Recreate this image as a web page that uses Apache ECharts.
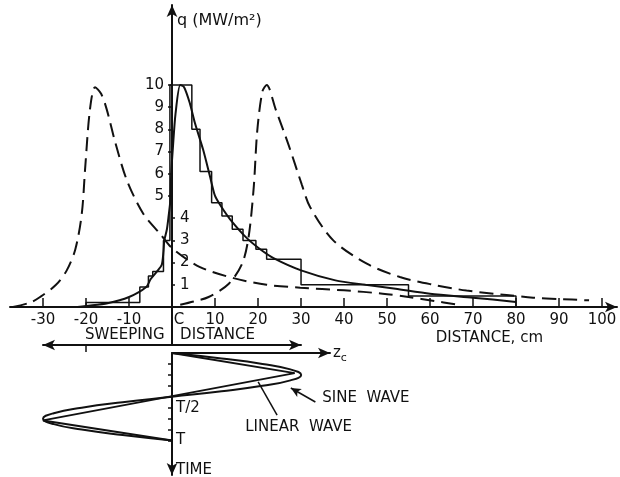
<!DOCTYPE html>
<html>
<head>
<meta charset="utf-8">
<script src="https://cdn.jsdelivr.net/npm/echarts@6/dist/echarts.min.js"></script>
<style>
  html, body { margin: 0; padding: 0; background: #fff; }
  #chart { width: 620px; height: 477px; }
</style>
</head>
<body>
<div id="chart"></div>
<script>
const ink = '#111';
const font = 'DejaVu Sans';

// heat flux q (MW/m2) along the target, distance in cm
const solidX = [-22, -20, -15, -10, -6, -5, -3.5, -2.4, -2, -1.8, -1.2, -0.8, -0.4, -0.2, 0.2, 0.8, 1.9, 2.8, 4.1, 5.3, 7.2, 8.8, 10, 11.5, 13.5, 17.4, 20.5, 23.6, 30, 38, 45, 52, 60, 70, 80];
const solidQ = [0, 0.05, 0.17, 0.45, 0.9, 1.25, 1.6, 1.9, 2.5, 3.0, 3.5, 4.1, 4.8, 6.0, 7.2, 8.7, 10, 9.9, 9.2, 8.3, 7.1, 5.9, 5.0, 4.5, 3.95, 3.1, 2.6, 2.2, 1.65, 1.2, 1.0, 0.82, 0.6, 0.42, 0.23];

const leftDashX = [-37, -33, -30.7, -27, -24.5, -22.5, -21, -20.2, -19.1, -17.9, -16.5, -15.2, -13.2, -10.5, -6.7, -2.8, 0.3, 6.5, 14.3, 22, 29.8, 40, 49, 55, 61, 66];
const leftDashQ = [0, 0.2, 0.45, 1.0, 1.65, 2.6, 4.2, 6.3, 8.9, 9.9, 9.6, 8.9, 7.4, 5.7, 4.2, 3.3, 2.6, 1.8, 1.3, 1.0, 0.87, 0.75, 0.6, 0.45, 0.27, 0.12];

const rightDashX = [1.9, 5, 8.5, 13.2, 16.3, 17.8, 19, 19.8, 21, 22, 24.1, 27.1, 30.2, 32.1, 37.5, 45.3, 53, 60.8, 68.5, 77.8, 84, 90, 97];
const rightDashQ = [0.1, 0.25, 0.45, 1.05, 1.95, 3.15, 5.4, 7.9, 9.7, 10, 8.9, 7.3, 5.5, 4.5, 3.0, 1.95, 1.35, 1.0, 0.74, 0.54, 0.42, 0.36, 0.3];

// histogram: edges and the level between each pair
const stepEdges = [-20, -7.5, -5.5, -4.5, -2, -0.5, 4.6, 6.5, 9.2, 11.6, 14, 16.5, 19.5, 22, 30, 55, 80];
const stepQ = [0.2, 0.9, 1.4, 1.6, 3.0, 10, 8.0, 6.1, 4.7, 4.1, 3.5, 3.0, 2.6, 2.15, 1.0, 0.5];

const distanceTicks = [-30, -20, -10, 0, 10, 20, 30, 40, 50, 60, 70, 80, 90, 100];
const fluxTicksLeft = [5, 6, 7, 8, 9, 10];
const fluxTicksRight = [1, 2, 3, 4];

// strike point position z_c (cm) over one period T
const sineT = [0, 0.0625, 0.125, 0.1875, 0.25, 0.3125, 0.375, 0.4375, 0.5, 0.5625, 0.625, 0.6875, 0.75, 0.8125, 0.875, 0.9375, 1];
const sineZ = [0, 11.5, 21, 27.5, 30, 27.5, 21, 11.5, 0, -11.5, -21, -27.5, -30, -27.5, -21, -11.5, 0];
const linearT = [0, 0.23, 0.77, 1];
const linearZ = [0, 28.5, -30, 0];
const timeTicks = [0.125, 0.25, 0.375, 0.5, 0.625, 0.75, 0.875, 1];
const timeLabels = [0.5, 1, 1.337];

const pairs = (xs, ys) => xs.map((x, i) => [x, ys[i]]);

const stepData = [[stepEdges[0], 0]]
    .concat(stepQ.map((q, i) => [stepEdges[i], q]))
    .concat([[stepEdges[stepEdges.length - 1], 0]]);

const txt = { color: ink, fontFamily: font, fontSize: 15 };
const axisInk = { color: ink, width: 2 };
const noGridBounds = { containLabel: false, outerBoundsMode: 'none' };
const hidden = { axisLine: { show: false }, axisTick: { show: false }, axisLabel: { show: false }, splitLine: { show: false } };

// a text tag pinned to a data point, drawn through markPoint
const tag = (coord, text) => ({
    coord, symbol: 'circle', symbolSize: 0,
    label: { show: true, position: 'right', distance: 0, ...txt, formatter: text },
});

const chart = echarts.init(document.getElementById('chart'));
chart.setOption({
    animation: false,
    backgroundColor: '#fff',
    grid: [
        { left: 10, width: 607, top: 5, height: 302, ...noGridBounds },   // q profile
        { left: 43, width: 258, top: 307, height: 38, ...noGridBounds },  // sweeping arrow
        { left: 172, width: 158, top: 353, height: 122, ...noGridBounds }, // z_c / time axes
        { left: 40, width: 290, top: 353, height: 122, ...noGridBounds },  // waves
    ],
    xAxis: [
        {
            gridIndex: 0, type: 'value', min: -37.7, max: 103.5,
            axisLine: { lineStyle: axisInk, symbol: ['none', 'arrow'], symbolSize: [8, 12] },
            axisTick: { inside: true, length: 9, customValues: distanceTicks.filter(v => v !== 0), lineStyle: { color: ink, width: 1.5 } },
            axisLabel: {
                customValues: distanceTicks, margin: 6, ...txt,
                formatter: v => v === 0 ? '{c|C}' : String(v),
                rich: { c: { ...txt, padding: [0, 0, 0, 14] } },
            },
            splitLine: { show: false },
            name: 'DISTANCE, cm', nameLocation: 'end', nameGap: -74,
            nameTextStyle: { ...txt, align: 'right', verticalAlign: 'top', padding: [24, 0, 0, 0] },
        },
        {
            gridIndex: 1, type: 'value', min: -30, max: 30,
            axisLine: { lineStyle: axisInk, symbol: ['arrow', 'arrow'], symbolSize: [8, 12] },
            axisTick: { inside: false, length: 7, customValues: [-20], lineStyle: { color: ink, width: 1.5 } },
            axisLabel: {
                inside: true, margin: 2, customValues: [-11, 10.6], ...txt,
                formatter: v => v < 0 ? 'SWEEPING' : 'DISTANCE',
            },
            splitLine: { show: false },
        },
        {
            gridIndex: 2, type: 'value', position: 'top', min: 0, max: 36.7,
            axisLine: { lineStyle: axisInk, symbol: ['none', 'arrow'], symbolSize: [8, 12] },
            axisTick: { show: false },
            axisLabel: { show: false },
            splitLine: { show: false },
            name: '{z|z}{c|c}', nameLocation: 'end', nameGap: 3,
            nameTextStyle: {
                rich: {
                    z: { ...txt },
                    c: { ...txt, fontSize: 11, padding: [10, 0, 0, 0] },
                },
            },
        },
        { gridIndex: 3, type: 'value', min: -30.7, max: 36.7, ...hidden },
    ],
    yAxis: [
        {
            gridIndex: 0, type: 'value', min: 0, max: 13.6, position: 'left', offset: -162,
            axisLine: { onZero: false, lineStyle: axisInk, symbol: ['none', 'arrow'], symbolSize: [8, 12] },
            axisTick: { length: 4, customValues: fluxTicksLeft, lineStyle: { color: ink, width: 1.5 } },
            axisLabel: { customValues: fluxTicksLeft, margin: 8, ...txt },
            splitLine: { show: false },
            name: 'q (MW/m²)', nameLocation: 'end', nameGap: -8,
            nameTextStyle: { ...txt, fontSize: 16, align: 'left', verticalAlign: 'top', padding: [0, 0, 0, 5] },
        },
        {
            gridIndex: 0, type: 'value', min: 0, max: 13.6, position: 'right', offset: -445,
            axisLine: { show: false, onZero: false },
            axisTick: { length: 3, customValues: fluxTicksRight, lineStyle: { color: ink, width: 1.5 } },
            axisLabel: { customValues: fluxTicksRight, margin: 8, ...txt },
            splitLine: { show: false },
        },
        {
            gridIndex: 1, type: 'value', min: 0, max: 1,
            axisLine: { lineStyle: axisInk },
            axisTick: { show: false },
            axisLabel: { show: false },
            splitLine: { show: false },
        },
        {
            gridIndex: 2, type: 'value', inverse: true, min: 0, max: 1.394,
            axisLine: { lineStyle: axisInk, symbol: ['arrow', 'none'], symbolSize: [8, 12] },
            axisTick: { length: 4, customValues: timeTicks, lineStyle: { color: ink, width: 1.5 } },
            axisLabel: {
                inside: true, margin: 4, customValues: timeLabels, ...txt,
                formatter: v => Math.abs(v - 0.5) < 1e-6 ? '{h|T/2}' : (Math.abs(v - 1) < 1e-6 ? 'T' : 'TIME'),
                rich: { h: { ...txt, padding: [22, 0, 0, 0] } },
            },
            splitLine: { show: false },
        },
        { gridIndex: 3, type: 'value', inverse: true, min: 0, max: 1.394, ...hidden },
    ],
    series: [
        {
            type: 'line', xAxisIndex: 0, yAxisIndex: 0, data: pairs(solidX, solidQ),
            smooth: 0.25, showSymbol: false, lineStyle: { color: ink, width: 2 },
        },
        {
            type: 'line', xAxisIndex: 0, yAxisIndex: 0, data: pairs(leftDashX, leftDashQ),
            smooth: 0.3, showSymbol: false, lineStyle: { color: ink, width: 2, type: [14, 7] },
        },
        {
            type: 'line', xAxisIndex: 0, yAxisIndex: 0, data: pairs(rightDashX, rightDashQ),
            smooth: 0.3, showSymbol: false, lineStyle: { color: ink, width: 2, type: [14, 7] },
        },
        {
            type: 'line', xAxisIndex: 0, yAxisIndex: 0, data: stepData, step: 'end',
            showSymbol: false, lineStyle: { color: ink, width: 1.5 },
        },
        {
            type: 'line', xAxisIndex: 3, yAxisIndex: 4, data: pairs(sineZ, sineT),
            smooth: true, showSymbol: false, lineStyle: { color: ink, width: 2 },
            markLine: {
                silent: true, symbol: ['none', 'arrow'], symbolSize: [7, 10],
                label: { show: false }, lineStyle: { color: ink, width: 1.5, type: 'solid' },
                data: [[{ coord: [33.3, 0.56] }, { coord: [27.6, 0.4] }]],
            },
            markPoint: { silent: true, data: [tag([34.9, 0.514], 'SINE  WAVE')] },
        },
        {
            type: 'line', xAxisIndex: 3, yAxisIndex: 4, data: pairs(linearZ, linearT),
            showSymbol: false, lineStyle: { color: ink, width: 2 },
            markLine: {
                silent: true, symbol: ['none', 'none'],
                label: { show: false }, lineStyle: { color: ink, width: 1.5, type: 'solid' },
                data: [[{ coord: [24.4, 0.71] }, { coord: [20, 0.33] }]],
            },
            markPoint: { silent: true, data: [tag([17, 0.846], 'LINEAR  WAVE')] },
        },
    ],
});
</script>
</body>
</html>
